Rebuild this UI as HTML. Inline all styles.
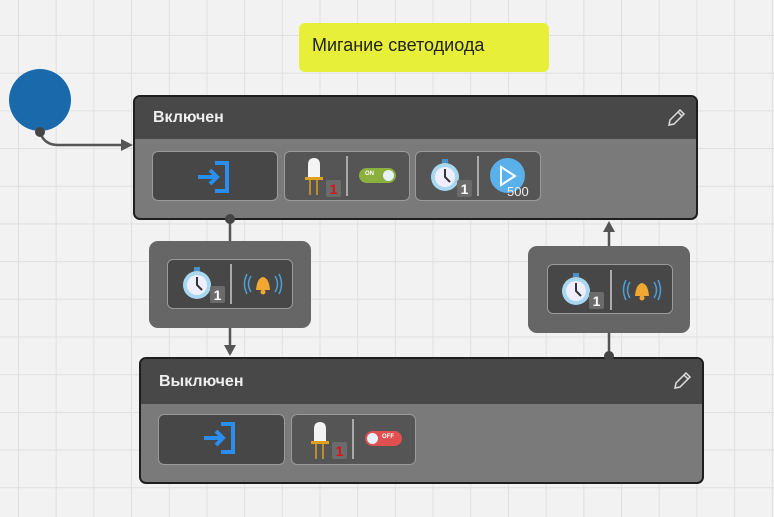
<!DOCTYPE html>
<html><head><meta charset="utf-8"><style>
*{margin:0;padding:0;box-sizing:border-box}
body{width:774px;height:517px;overflow:hidden;position:relative;font-family:"Liberation Sans","DejaVu Sans",sans-serif;
background-color:#f2f2f2;
background-image:linear-gradient(to right,#e0e0e0 1px,transparent 1px),linear-gradient(to bottom,#e0e0e0 1px,transparent 1px);
background-size:37.7px 37.7px;background-position:18px 35px}
.abs{position:absolute}
.node{position:absolute;border:2px solid #1e1e1e;border-radius:7px;background:#7a7a7a;overflow:hidden}
.hdr{position:absolute;left:0;right:0;top:0;background:#484848;color:#eee;font-weight:bold;font-size:16px;padding-left:18px}
.box{position:absolute;border:1.5px solid #9a9a9a;border-radius:6px;background:#555}
.box.d{background:#474747}
.tr{position:absolute;background:#666;border-radius:9px}
.sep{position:absolute;width:2px;background:#aaa}
.badge{position:absolute;width:15px;height:17px;background:#6b6b6b;border-radius:2px;font-weight:bold;font-size:14px;text-align:center;line-height:18px}
</style></head><body>

<div class="abs" style="left:299px;top:23px;width:250px;height:49px;background:#e8ef38;border-radius:6px;font-size:18px;color:#222;padding:12px 0 0 13px">Мигание светодиода</div>

<div class="abs" style="left:9px;top:69px;width:62px;height:62px;border-radius:50%;background:#1a6aab"></div>

<!-- top node -->
<div class="node" style="left:133px;top:95px;width:565px;height:125px">
 <div class="hdr" style="height:42px;line-height:42px">Включен</div>
 <svg class="abs" style="left:530px;top:10px" width="22" height="22"><path d="M4 18 L5 13 L15 3 L19 7 L9 17 Z M13 5 L17 9" fill="none" stroke="#ddd" stroke-width="1.5"/></svg>
 <div class="box d" style="left:17px;top:54px;width:126px;height:50px"></div>
 <div class="box" style="left:149px;top:54px;width:126px;height:50px"></div>
 <div class="box" style="left:280px;top:54px;width:126px;height:50px"></div>
</div>

<!-- bottom node -->
<div class="node" style="left:139px;top:357px;width:565px;height:127px">
 <div class="hdr" style="height:45px;line-height:45px">Выключен</div>
 <svg class="abs" style="left:530px;top:11px" width="22" height="22"><path d="M4 18 L5 13 L15 3 L19 7 L9 17 Z M13 5 L17 9" fill="none" stroke="#ddd" stroke-width="1.5"/></svg>
 <div class="box d" style="left:17px;top:55px;width:127px;height:51px"></div>
 <div class="box" style="left:150px;top:55px;width:125px;height:51px"></div>
</div>

<svg class="abs" style="left:0;top:0" width="774" height="517">
<path d="M40 132 Q44 145 58 145 L122 145" fill="none" stroke="#555" stroke-width="2.5"/>
<polygon points="121,139 133,145 121,151" fill="#555"/>
<circle cx="40" cy="132" r="5" fill="#444"/>
<line x1="230" y1="219" x2="230" y2="346" stroke="#555" stroke-width="2.5"/>
<polygon points="224,345 230,356 236,345" fill="#555"/>
<circle cx="230" cy="219" r="5" fill="#444"/>
<line x1="609" y1="357" x2="609" y2="230" stroke="#555" stroke-width="2.5"/>
<polygon points="603,232 609,221 615,232" fill="#555"/>
<circle cx="609" cy="356" r="5" fill="#444"/>
</svg>

<!-- top node icons -->
<svg class="abs" style="left:195px;top:160px" width="40" height="34"><path d="M20 3 H32 V31 H20" fill="none" stroke="#2a8df0" stroke-width="4"/><path d="M3 17 H22 M15 10 L22 17 L15 24" fill="none" stroke="#2a8df0" stroke-width="4"/></svg>
<svg class="abs" style="left:300px;top:155px" width="34" height="42"><path d="M8 22 V10 Q8 3 14 3 Q20 3 20 10 V22 Z" fill="#f4f4f4"/><rect x="5" y="22" width="18" height="3" fill="#e0a020"/><line x1="10" y1="25" x2="10" y2="40" stroke="#e0a020" stroke-width="1.5"/><line x1="17" y1="25" x2="17" y2="40" stroke="#e0a020" stroke-width="1.5"/></svg>
<div class="badge" style="left:326px;top:180px;color:#e01010">1</div>
<div class="sep" style="left:346px;top:156px;height:40px"></div>
<div class="abs" style="left:359px;top:168px;width:37px;height:15px;border-radius:8px;background:#8cb040"><span style="position:absolute;left:6px;top:3px;font-size:6px;color:#fff;font-weight:bold">ON</span><span style="position:absolute;right:2px;top:2px;width:11px;height:11px;border-radius:50%;background:#e8f0f8"></span></div>
<svg class="abs" style="left:428px;top:156px" width="36" height="38"><circle cx="17" cy="21" r="14" fill="#a8d8f0"/><circle cx="17" cy="21" r="10" fill="#eef"/><path d="M17 13 V21 L22 26" stroke="#333" stroke-width="2" fill="none"/><rect x="14" y="3" width="6" height="4" fill="#4a90c8"/></svg>
<div class="badge" style="left:457px;top:180px;color:#fff">1</div>
<div class="sep" style="left:477px;top:156px;height:40px"></div>
<div class="abs" style="left:490px;top:158px;width:35px;height:35px;border-radius:50%;background:#5ab0e8"></div>
<svg class="abs" style="left:498px;top:165px" width="20" height="22"><path d="M3 2 L17 11 L3 20 Z" fill="none" stroke="#fff" stroke-width="2"/></svg>
<div class="abs" style="left:507px;top:184px;font-size:13px;color:#eee">500</div>

<!-- left transition -->
<div class="tr" style="left:149px;top:241px;width:162px;height:87px">
 <div class="box d" style="left:18px;top:18px;width:126px;height:50px"></div>
</div>
<!-- right transition -->
<div class="tr" style="left:528px;top:246px;width:162px;height:87px">
 <div class="box d" style="left:19px;top:18px;width:126px;height:50px"></div>
</div>

<!-- transition icons -->
<svg class="abs" style="left:180px;top:264px" width="36" height="38"><circle cx="17" cy="21" r="14" fill="#a8d8f0"/><circle cx="17" cy="21" r="10" fill="#eef"/><path d="M17 13 V21 L22 26" stroke="#333" stroke-width="2" fill="none"/><rect x="14" y="3" width="6" height="4" fill="#4a90c8"/></svg>
<div class="badge" style="left:210px;top:286px;color:#fff">1</div>
<div class="sep" style="left:230px;top:264px;height:40px"></div>
<svg class="abs" style="left:243px;top:270px" width="40" height="28"><path d="M8 6 Q3 14 8 22 M4 4 Q-1 14 4 24 M32 6 Q37 14 32 22 M36 4 Q41 14 36 24" fill="none" stroke="#4aa0d8" stroke-width="1.5"/><path d="M13 20 Q14 8 20 7 Q26 8 27 20 Z" fill="#f0a830"/><circle cx="20" cy="22" r="2.5" fill="#f0a830"/></svg>

<svg class="abs" style="left:559px;top:270px" width="36" height="38"><circle cx="17" cy="21" r="14" fill="#a8d8f0"/><circle cx="17" cy="21" r="10" fill="#eef"/><path d="M17 13 V21 L22 26" stroke="#333" stroke-width="2" fill="none"/><rect x="14" y="3" width="6" height="4" fill="#4a90c8"/></svg>
<div class="badge" style="left:589px;top:292px;color:#fff">1</div>
<div class="sep" style="left:610px;top:270px;height:40px"></div>
<svg class="abs" style="left:622px;top:276px" width="40" height="28"><path d="M8 6 Q3 14 8 22 M4 4 Q-1 14 4 24 M32 6 Q37 14 32 22 M36 4 Q41 14 36 24" fill="none" stroke="#4aa0d8" stroke-width="1.5"/><path d="M13 20 Q14 8 20 7 Q26 8 27 20 Z" fill="#f0a830"/><circle cx="20" cy="22" r="2.5" fill="#f0a830"/></svg>

<!-- bottom node icons -->
<svg class="abs" style="left:201px;top:421px" width="40" height="34"><path d="M20 3 H32 V31 H20" fill="none" stroke="#2a8df0" stroke-width="4"/><path d="M3 17 H22 M15 10 L22 17 L15 24" fill="none" stroke="#2a8df0" stroke-width="4"/></svg>
<svg class="abs" style="left:306px;top:419px" width="34" height="42"><path d="M8 22 V10 Q8 3 14 3 Q20 3 20 10 V22 Z" fill="#f4f4f4"/><rect x="5" y="22" width="18" height="3" fill="#e0a020"/><line x1="10" y1="25" x2="10" y2="40" stroke="#e0a020" stroke-width="1.5"/><line x1="17" y1="25" x2="17" y2="40" stroke="#e0a020" stroke-width="1.5"/></svg>
<div class="badge" style="left:332px;top:442px;color:#e01010">1</div>
<div class="sep" style="left:352px;top:419px;height:40px"></div>
<div class="abs" style="left:365px;top:431px;width:37px;height:15px;border-radius:8px;background:#e05050"><span style="position:absolute;left:2px;top:2px;width:11px;height:11px;border-radius:50%;background:#e8f0f8"></span><span style="position:absolute;left:17px;top:3px;font-size:6px;color:#fff;font-weight:bold">OFF</span></div>

</body></html>
